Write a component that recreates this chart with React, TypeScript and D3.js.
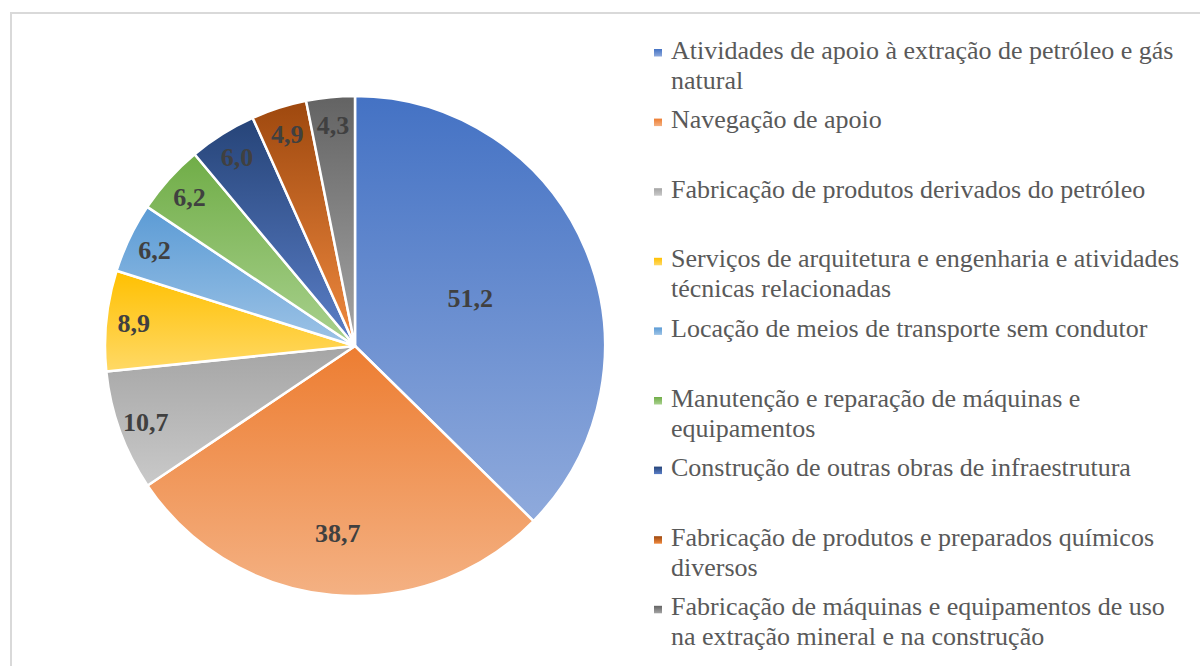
import React, { useEffect, useRef } from 'react';
import * as d3 from 'd3';

// Data
const categories = [
    'Atividades de apoio à extração de petróleo e gás natural',
    'Navegação de apoio',
    'Fabricação de produtos derivados do petróleo',
    'Serviços de arquitetura e engenharia e atividades técnicas relacionadas',
    'Locação de meios de transporte sem condutor',
    'Manutenção e reparação de máquinas e equipamentos',
    'Construção de outras obras de infraestrutura',
    'Fabricação de produtos e preparados químicos diversos',
    'Fabricação de máquinas e equipamentos de uso na extração mineral e na construção'
];
const values = [51.2, 38.7, 10.7, 8.9, 6.2, 6.2, 6.0, 4.9, 4.3];

// gradient colours: top, bottom
const colorsTop = ['#4472C4', '#ED7D31', '#A5A5A5', '#FFC000', '#5B9BD5', '#70AD47', '#264478', '#9E480E', '#636363'];
const colorsBottom = ['#8FAADC', '#F4B183', '#C9C9C9', '#FFD966', '#9DC3E6', '#A9D18E', '#5B7FC8', '#F08A40', '#A5A5A5'];

export default function App() {
    const ref = useRef<SVGSVGElement | null>(null);

    useEffect(() => {
        const svg = d3.select(ref.current);
        svg.selectAll('*').remove();

        const width = 1200;
        const height = 666;
        const cx = 355;
        const cy = 346;
        const radius = 250;
        const serif = '"Liberation Serif", "Times New Roman", serif';

        // frame
        svg.append('rect')
            .attr('x', 11).attr('y', 13)
            .attr('width', width).attr('height', height)
            .attr('fill', '#fff')
            .attr('stroke', '#d9d9d9')
            .attr('stroke-width', 2);

        const defs = svg.append('defs');
        values.forEach((_, i) => {
            const g = defs.append('linearGradient')
                .attr('id', 'grad' + i)
                .attr('x1', 0).attr('y1', 0).attr('x2', 0).attr('y2', 1);
            g.append('stop').attr('offset', '0%').attr('stop-color', colorsTop[i]);
            g.append('stop').attr('offset', '100%').attr('stop-color', colorsBottom[i]);
        });

        const pie = d3.pie<number>().value(d => d).sort(null);
        const arc = d3.arc<d3.PieArcDatum<number>>().innerRadius(0).outerRadius(radius);

        const chart = svg.append('g').attr('transform', `translate(${cx},${cy})`);
        const arcs = pie(values);

        chart.selectAll('path')
            .data(arcs)
            .enter().append('path')
            .attr('d', arc)
            .attr('fill', (_, i) => `url(#grad${i})`)
            .attr('stroke', '#fff')
            .attr('stroke-width', 2.5)
            .attr('stroke-linejoin', 'round');

        // labels: big slices further in, small ones near the rim
        const labelR = (v: number) => (v > 40 ? 0.5 : v > 30 ? 0.75 : 0.89) * radius;
        chart.selectAll('text.lbl')
            .data(arcs)
            .enter().append('text')
            .attr('class', 'lbl')
            .attr('transform', d => {
                const a = (d.startAngle + d.endAngle) / 2;
                const r = labelR(d.data);
                return `translate(${Math.sin(a) * r},${-Math.cos(a) * r})`;
            })
            .attr('dy', '.35em')
            .style('text-anchor', 'middle')
            .style('font-family', serif)
            .style('font-weight', 'bold')
            .style('font-size', '26px')
            .style('fill', '#404040')
            .text(d => d.data.toFixed(1).replace('.', ','));

        // Legend
        const legX = 671;
        const maxW = 523;
        const lineH = 30;
        const legend = svg.append('g');
        categories.forEach((cat, i) => {
            const base = 58.5 + i * 69.6;
            legend.append('rect')
                .attr('x', 654).attr('y', base - 9.5)
                .attr('width', 8).attr('height', 7.5)
                .attr('fill', `url(#grad${i})`);
            const text = legend.append('text')
                .attr('x', legX).attr('y', base)
                .style('font-family', serif)
                .style('font-size', '26px')
                .style('fill', '#595959');
            const words = cat.split(' ');
            let line: string[] = [];
            let tspan = text.append('tspan').attr('x', legX).attr('dy', 0);
            words.forEach(w => {
                line.push(w);
                tspan.text(line.join(' '));
                const node = tspan.node() as SVGTextContentElement;
                if (node.getComputedTextLength() > maxW && line.length > 1) {
                    line.pop();
                    tspan.text(line.join(' '));
                    line = [w];
                    tspan = text.append('tspan').attr('x', legX).attr('dy', lineH).text(w);
                }
            });
        });
    }, []);

    return (
        <svg ref={ref} width={1200} height={666}
            style={{ position: 'absolute', left: 0, top: 0, display: 'block' }} />
    );
}
